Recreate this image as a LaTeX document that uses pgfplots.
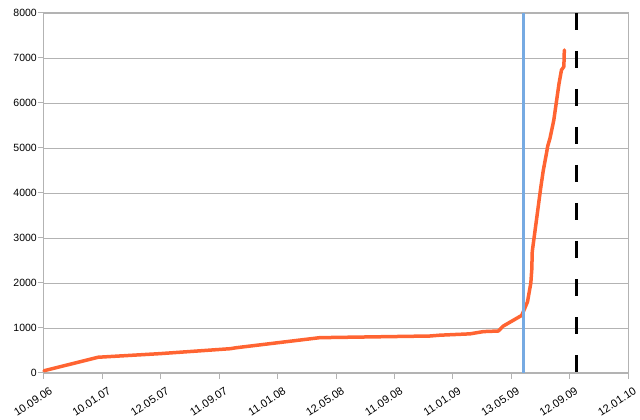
\documentclass[border=0pt]{standalone}
\usepackage{pgfplots}
\pgfplotsset{compat=1.18}
\usepackage{fontspec}
\setmainfont{Liberation Sans}
\definecolor{lgray}{RGB}{179,179,179}
\definecolor{lorange}{RGB}{255,100,50}
\definecolor{lblue}{RGB}{118,170,226}
\begin{document}
\fontsize{10.5}{12}\selectfont
\begin{tikzpicture}[x=1pt,y=1pt]
\useasboundingbox (-44pt,-47pt) rectangle (596pt,373pt);
\begin{axis}[
  at={(0,0)}, anchor=south west,
  scale only axis, width=584pt, height=360pt,
  xmin=0, xmax=1220, ymin=0, ymax=8000,
  xtick={0,122,244,366,488,610,732,854,976,1098,1220},
  xticklabels={10.09.06,10.01.07,12.05.07,11.09.07,11.01.08,12.05.08,11.09.08,11.01.09,13.05.09,12.09.09,12.01.10},
  ytick={0,1000,2000,3000,4000,5000,6000,7000,8000},
  /pgf/number format/assume math mode=true,
  /pgf/number format/1000 sep={},
  axis line style={lgray, line width=1pt},
  ymajorgrids, grid style={lgray, line width=0.8pt},
  tick style={lgray, line width=1pt},
  tick align=outside, major tick length=6pt,
  xtick pos=bottom, ytick pos=left,
  xticklabel style={rotate=33, anchor=north east, inner sep=0pt, yshift=-9pt, xshift=0pt, font=\fontsize{11}{12}\selectfont},
  yticklabel style={font=\fontsize{10.5}{12}\selectfont, inner sep=1pt},
  clip=false,
]
\addplot[lorange, line width=3.5pt, line join=round, line cap=round] coordinates {
(0,50) (113,350) (242,430) (389,540) (402,562) (576,785) (806,822) (827,840)
(890,870) (918,920) (949,933) (959,1040) (998,1280) (1010,1580) (1017,2000)
(1019,2300) (1020,2700) (1038,4140) (1043,4500) (1050,4900) (1052,5030)
(1057,5215) (1065,5620) (1076,6437) (1081,6733) (1086,6807) (1087,7178)
};
\addplot[lblue, line width=3pt] coordinates {(1001,8000) (1001,0)};
\addplot[black, line width=3pt, dash pattern=on 17pt off 21pt] coordinates {(1113,8000) (1113,0)};
\end{axis}
\end{tikzpicture}
\end{document}
